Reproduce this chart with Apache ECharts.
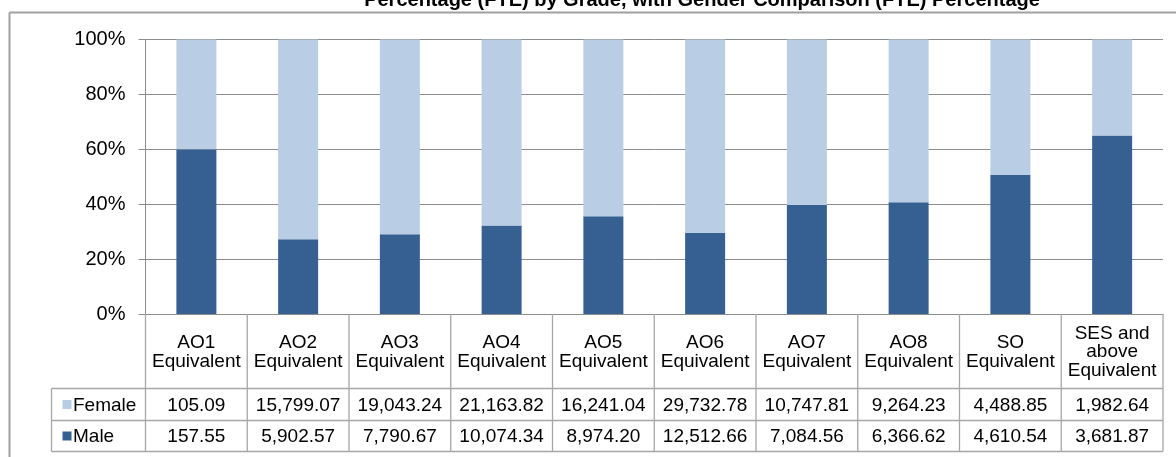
<!DOCTYPE html>
<html>
<head>
<meta charset="utf-8">
<script src="https://cdn.jsdelivr.net/npm/echarts@6/dist/echarts.min.js"></script>
<style>
  html, body { margin: 0; padding: 0; background: #fff; }
  #main { width: 1176px; height: 457px; }
</style>
</head>
<body>
<div id="main"></div>
<script>
// data
var grades = ['AO1\nEquivalent', 'AO2\nEquivalent', 'AO3\nEquivalent', 'AO4\nEquivalent', 'AO5\nEquivalent',
  'AO6\nEquivalent', 'AO7\nEquivalent', 'AO8\nEquivalent', 'SO\nEquivalent', 'SES and\nabove\nEquivalent'];
var female = [105.09, 15799.07, 19043.24, 21163.82, 16241.04, 29732.78, 10747.81, 9264.23, 4488.85, 1982.64];
var male = [157.55, 5902.57, 7790.67, 10074.34, 8974.20, 12512.66, 7084.56, 6366.62, 4610.54, 3681.87];
var seriesNames = ['Female', 'Male'];
var yTicks = [0, 20, 40, 60, 80, 100];

var femaleColor = '#B9CDE5';
var maleColor = '#376092';
var lineGray = '#8C8C8C';
var tableGray = '#A6A6A6';
var font = '"Liberation Sans", Arial, sans-serif';

// 100% stacked: share of each grade's total
var malePct = male.map(function (v, i) { return v / (v + female[i]) * 100; });
var femalePct = female.map(function (v, i) { return v / (v + male[i]) * 100; });

function fmt(v) {
  return v.toLocaleString('en-US', { minimumFractionDigits: 2, maximumFractionDigits: 2 });
}

var myChart = echarts.init(document.getElementById('main'));

var option = {
  animation: false,
  backgroundColor: '#fff',
  grid: { left: 145.5, right: 13, top: 39.5, bottom: 143 },
  xAxis: {
    type: 'category',
    data: grades,
    axisLine: { lineStyle: { color: lineGray } },
    axisTick: { show: false },
    axisLabel: { show: false }
  },
  yAxis: {
    type: 'value',
    min: 0, max: 100, interval: 20,
    axisLine: { show: true, lineStyle: { color: lineGray } },
    axisTick: { show: true, inside: false, length: 7, lineStyle: { color: lineGray } },
    axisLabel: {
      margin: 20, color: '#000', fontSize: 20, fontFamily: font,
      formatter: function (v) { return yTicks.indexOf(v) >= 0 ? v + '%' : ''; }
    },
    splitLine: { lineStyle: { color: lineGray } }
  },
  series: [
    { name: seriesNames[1], type: 'bar', stack: 'pct', data: malePct, barWidth: 40,
      itemStyle: { color: maleColor } },
    { name: seriesNames[0], type: 'bar', stack: 'pct', data: femalePct, barWidth: 40,
      itemStyle: { color: femaleColor } }
  ]
};

myChart.setOption(option);

// data table below the plot, placed from the category axis
function buildTable() {
  var g = [];
  var x0 = myChart.convertToPixel({ xAxisIndex: 0 }, 0);
  var x1 = myChart.convertToPixel({ xAxisIndex: 0 }, 1);
  var colW = x1 - x0;
  var left = x0 - colW / 2;
  var right = left + colW * grades.length;
  var yAxis0 = myChart.convertToPixel({ yAxisIndex: 0 }, 0);
  var headBottom = 388.5, rowMid = 420.5, tableBottom = 451.5, legLeft = 51.5;
  var ln = function (xa, ya, xb, yb) {
    g.push({ type: 'line', silent: true, z: 10,
      shape: { x1: xa, y1: ya, x2: xb, y2: yb },
      style: { stroke: tableGray, lineWidth: 1.3 } });
  };
  // horizontal rules
  ln(legLeft, headBottom, right, headBottom);
  ln(legLeft, rowMid, right, rowMid);
  ln(legLeft, tableBottom, right, tableBottom);
  // vertical rules
  ln(legLeft, headBottom, legLeft, tableBottom);
  for (var i = 0; i <= grades.length; i++) {
    ln(left + colW * i, yAxis0, left + colW * i, tableBottom);
  }
  var txt = function (x, y, s, align) {
    g.push({ type: 'text', silent: true, z: 11, x: x, y: y,
      style: { text: s, fill: '#000', font: '19px ' + font, align: align || 'center',
        verticalAlign: 'middle', lineHeight: 18.5 } });
  };
  grades.forEach(function (c, i) {
    var cx = myChart.convertToPixel({ xAxisIndex: 0 }, i);
    txt(cx, (yAxis0 + headBottom) / 2 + 1, c);
    txt(cx, (headBottom + rowMid) / 2 + 1, fmt(female[i]));
    txt(cx, (rowMid + tableBottom) / 2 + 1, fmt(male[i]));
  });
  // legend keys
  [[female, femaleColor, seriesNames[0], headBottom, rowMid], [male, maleColor, seriesNames[1], rowMid, tableBottom]]
    .forEach(function (r) {
      var cy = (r[3] + r[4]) / 2;
      g.push({ type: 'rect', silent: true, z: 11, shape: { x: 62.5, y: cy - 4.5, width: 9, height: 9 },
        style: { fill: r[1] } });
      txt(73, cy + 1, r[2], 'left');
    });
  // outer chart frame and clipped title
  g.push({ type: 'line', silent: true, shape: { x1: 9.5, y1: 12.5, x2: 1176, y2: 12.5 },
    style: { stroke: '#A0A0A0', lineWidth: 2 } });
  g.push({ type: 'line', silent: true, shape: { x1: 9.5, y1: 12.5, x2: 9.5, y2: 457 },
    style: { stroke: '#A0A0A0', lineWidth: 2 } });
  g.push({ type: 'text', silent: true, x: 702, y: 10,
    style: { text: 'Percentage (FTE) by Grade, with Gender Comparison (FTE) Percentage',
      fill: '#000', font: 'bold 20px ' + font, align: 'center', verticalAlign: 'bottom' } });
  myChart.setOption({ graphic: { elements: g } });
}

buildTable();
</script>
</body>
</html>
